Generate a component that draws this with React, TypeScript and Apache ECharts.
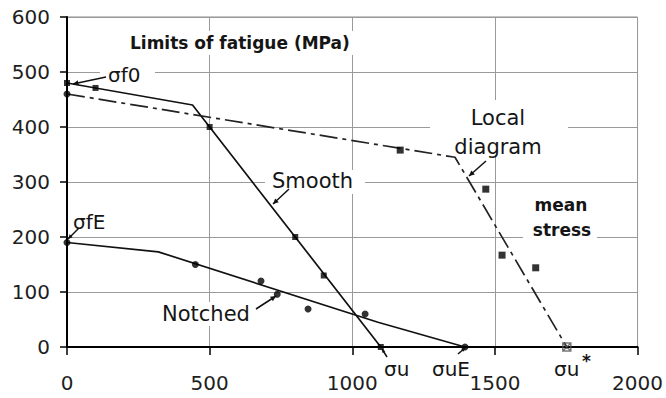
import React, { useEffect, useRef } from "react";
import * as echarts from "echarts";

// ---- data (MPa) ----
const xTickMin = 0;
const xTickMax = 2000;
const xTickStep = 500;
const yTickMin = 0;
const yTickMax = 600;
const yTickStep = 100;

const smoothLine = [[0, 480], [440, 440], [1100, 0]];
const smoothPoints = [[0, 480], [100, 471], [500, 400], [800, 200], [900, 130], [1100, 0]];
const localLine = [[0, 460], [1360, 345], [1752, 0]];
const localStart = [[0, 460]];
const localPoints = [[1168, 358], [1468, 287], [1525, 167], [1643, 144]];
const localUltimate = [[1752, 0]];
const notchedLine = [[0, 190], [320, 173], [1090, 45], [1395, 0]];
const notchedPoints = [[0, 190], [450, 150], [680, 120], [737, 96], [845, 69], [1045, 60], [1395, 0]];

const FONT = "DejaVu Sans";

function arrow(x1: number, y1: number, x2: number, y2: number, head = 6) {
  const a = Math.atan2(y2 - y1, x2 - x1);
  const p1 = [x2 - head * Math.cos(a - 0.45), y2 - head * Math.sin(a - 0.45)];
  const p2 = [x2 - head * Math.cos(a + 0.45), y2 - head * Math.sin(a + 0.45)];
  return [
    { type: "line", z: 20, shape: { x1, y1, x2, y2 }, style: { stroke: "#111", lineWidth: 1.5 } },
    { type: "polygon", z: 20, shape: { points: [[x2, y2], p1, p2] }, style: { fill: "#111" } },
  ];
}

function bg(x: number, y: number, w: number, h: number) {
  return { type: "rect", z: 1, shape: { x, y, width: w, height: h }, style: { fill: "#fff" } };
}

function label(text: string, x: number, y: number, size = 21, bold = false, align = "left") {
  return {
    type: "text",
    z: 30,
    x,
    y,
    style: {
      text,
      fill: "#151515",
      font: `${bold ? "bold " : ""}${size}px '${FONT}'`,
      textAlign: align,
      textVerticalAlign: "middle",
    },
  };
}

export default function App() {
  const ref = useRef<HTMLDivElement>(null);
  useEffect(() => {
    document.body.style.margin = "0";
    const chart = echarts.init(ref.current!, null, { renderer: "svg" });
    const option: any = {
      animation: false,
      backgroundColor: "#fff",
      textStyle: { fontFamily: FONT },
      grid: { left: 67, right: 27, top: 17, bottom: 51, show: true, borderColor: "#8a8a8a", borderWidth: 1 },
      xAxis: {
        type: "value",
        min: xTickMin,
        max: xTickMax,
        interval: xTickStep,
        axisLine: { show: true, onZero: false, lineStyle: { color: "#000", width: 2 } },
        axisTick: { show: true, length: 8, lineStyle: { color: "#000", width: 1.5 } },
        axisLabel: {
          margin: 26,
          fontSize: 20,
          color: "#1e1e1e",
          fontFamily: FONT,
          showMinLabel: true,
          showMaxLabel: true,
          formatter: (v: number) => String(v),
        },
        splitLine: { show: true, lineStyle: { color: "#9a9a9a", width: 1 } },
      },
      yAxis: {
        type: "value",
        min: yTickMin,
        max: yTickMax,
        interval: yTickStep,
        axisLine: { show: true, onZero: false, lineStyle: { color: "#000", width: 2 } },
        axisTick: { show: true, length: 7, lineStyle: { color: "#000", width: 1.5 } },
        axisLabel: { margin: 17, fontSize: 20, color: "#1e1e1e", fontFamily: FONT, formatter: (v: number) => String(v) },
        splitLine: { show: true, lineStyle: { color: "#9a9a9a", width: 1 } },
      },
      series: [
        { type: "line", data: smoothLine, showSymbol: false, symbol: "none", lineStyle: { color: "#111", width: 1.7 }, z: 3 },
        { type: "line", data: notchedLine, showSymbol: false, symbol: "none", lineStyle: { color: "#111", width: 1.7 }, z: 3 },
        { type: "line", data: localLine, showSymbol: false, symbol: "none", lineStyle: { color: "#222", width: 1.7, type: [18, 5, 4, 5] }, z: 3 },
        { type: "scatter", data: smoothPoints, symbol: "rect", symbolSize: 6, itemStyle: { color: "#000" }, z: 4 },
        { type: "scatter", data: notchedPoints, symbol: "circle", symbolSize: 7, itemStyle: { color: "#000" }, z: 4 },
        { type: "scatter", data: localStart, symbol: "circle", symbolSize: 7, itemStyle: { color: "#000" }, z: 4 },
        { type: "scatter", data: localPoints, symbol: "rect", symbolSize: 7, itemStyle: { color: "#000" }, z: 4 },
        {
          type: "scatter",
          data: localUltimate,
          symbol: "path://M0,0L10,10M10,0L0,10M0,0L10,0L10,10L0,10Z",
          symbolSize: 8,
          itemStyle: { color: "none", borderColor: "#555", borderWidth: 1.5 },
          z: 4,
        },
      ],
      graphic: [
        bg(125, 31, 230, 24),
        bg(100, 64, 55, 20),
        bg(265, 170, 100, 24),
        bg(430, 100, 138, 55),
        bg(523, 192, 74, 52),
        bg(72, 210, 40, 22),
        bg(160, 302, 95, 24),
        label("Limits of fatigue (MPa)", 130, 43, 17, true),
        label("σf0", 108, 75, 20),
        label("Smooth", 272, 181, 21),
        label("Local", 498, 118, 21, false, "center"),
        label("diagram", 498, 147, 21, false, "center"),
        label("mean", 561, 205, 17, true, "center"),
        label("stress", 562, 230, 17, true, "center"),
        label("σfE", 73, 222, 20),
        label("Notched", 162, 314, 21),
        label("σu", 384, 369, 20),
        label("σuE", 432, 369, 20),
        label("σu", 554, 369, 20),
        label("*", 582, 361, 17, true),
        ...arrow(106, 77, 73, 84),
        ...arrow(289, 189, 273, 204),
        ...arrow(486, 161, 469, 176),
        ...arrow(256, 309, 276, 296),
        ...arrow(79, 228, 68, 239, 5),
        ...arrow(387, 357, 382, 349, 4),
        ...arrow(458, 354, 465, 348, 4),
      ],
    };
    chart.setOption(option);
    return () => chart.dispose();
  }, []);
  return <div ref={ref} style={{ width: 666, height: 398 }} />;
}
